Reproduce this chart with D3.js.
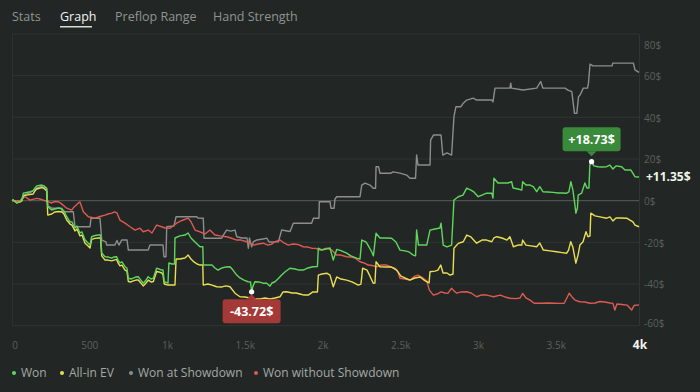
<!DOCTYPE html>
<html><head><meta charset="utf-8">
<script src="https://cdn.jsdelivr.net/npm/d3@7/dist/d3.min.js"></script>
<style>
html,body{margin:0;padding:0;background:#222725;}
svg{display:block;font-family:"Open Sans","Noto Sans",sans-serif;}
</style></head>
<body><svg id="c" width="700" height="392"></svg>
<script>
const tabs = ["Stats","Graph","Preflop Range","Hand Strength"];
const activeTab = "Graph";
const seriesNames = ["Won","All-in EV","Won at Showdown","Won without Showdown"];
const seriesColors = ["#5fd65c","#e8df52","#8b8e8d","#de5a51"];
const yTicks = [-60,-40,-20,0,20,40,60,80];
const xTicks = [0,500,1000,1500,2000,2500,3000,3500];
const xTickLabels = ["0","500","1k","1.5k","2k","2.5k","3k","3.5k"];
const totalHands = 4032;
const totalLabel = "4k";

// [hand, $]
const wonData = [[0,0],[8,0.3],[30,-1.0],[51,-0.5],[64,0.3],[73,3.6],[116,4.3],[135,4.7],[148,6.1],[159,7.1],[191,7.5],[206,7.1],[223,6.0],[230,-2.9],[255,-4.5],[276,-4.0],[298,-3.5],[322,-4.0],[334,-4.9],[352,-7.7],[373,-10.1],[386,-10.2],[405,-13.1],[418,-12.1],[437,-15.5],[450,-15.0],[469,-18.8],[489,-20.3],[502,-21.3],[512,-17.3],[534,-16.7],[555,-16.5],[569,-16.5],[577,-25.1],[598,-26.9],[617,-27.0],[641,-27.6],[656,-27.0],[673,-26.9],[682,-28.5],[694,-29.9],[707,-29.4],[727,-31.7],[739,-32.3],[748,-37.2],[765,-37.6],[780,-37.2],[797,-36.6],[812,-36.5],[829,-38.1],[844,-39.6],[862,-38.1],[876,-36.5],[894,-37.6],[909,-37.2],[930,-32.4],[945,-32.8],[963,-33.3],[971,-33.3],[979,-38.9],[1003,-39.6],[1009,-29.9],[1029,-30.4],[1045,-30.4],[1048,-17.9],[1080,-16.9],[1112,-16.5],[1132,-15.5],[1151,-17.9],[1170,-19.3],[1190,-20.8],[1209,-22.1],[1227,-22.1],[1230,-30.9],[1260,-30.9],[1286,-30.9],[1305,-32.3],[1325,-33.3],[1350,-32.3],[1376,-31.8],[1402,-31.7],[1421,-33.3],[1445,-35.7],[1466,-37.1],[1492,-38.1],[1518,-38.9],[1534,-39.0],[1541,-43.72],[1550,-41.0],[1562,-38.9],[1588,-39.0],[1614,-39.6],[1638,-39.6],[1659,-41.0],[1672,-39.5],[1691,-38.9],[1710,-37.6],[1734,-35.7],[1755,-34.2],[1787,-32.4],[1820,-32.8],[1845,-33.3],[1873,-33.3],[1903,-32.3],[1935,-31.7],[1964,-31.6],[1970,-22.8],[1993,-23.7],[2019,-23.2],[2045,-22.7],[2066,-28.5],[2088,-23.4],[2115,-24.0],[2152,-25.2],[2179,-26.5],[2216,-27.6],[2238,-28.0],[2249,-18.9],[2276,-19.8],[2289,-21.3],[2313,-24.5],[2324,-26.5],[2341,-15.6],[2366,-17.9],[2399,-17.9],[2441,-18.0],[2469,-19.8],[2495,-23.7],[2527,-24.1],[2553,-24.6],[2580,-26.1],[2595,-26.5],[2602,-14.1],[2614,-21.3],[2643,-21.3],[2667,-21.3],[2688,-14.1],[2720,-13.6],[2752,-13.1],[2759,-10.8],[2773,-21.3],[2797,-22.2],[2827,-21.3],[2842,0.3],[2870,1.9],[2900,2.7],[2924,6.0],[2951,5.1],[2970,4.2],[2998,1.9],[3022,2.7],[3052,3.6],[3085,3.6],[3093,1.3],[3099,10.8],[3125,8.5],[3157,8.5],[3189,8.5],[3213,9.1],[3222,6.1],[3254,5.6],[3278,5.1],[3284,9.1],[3305,7.5],[3331,7.5],[3352,6.7],[3374,4.3],[3394,6.7],[3414,4.3],[3446,4.2],[3480,4.0],[3511,3.7],[3536,3.7],[3567,3.6],[3581,4.2],[3594,9.1],[3607,5.1],[3620,-2.1],[3626,-6.0],[3636,-3.5],[3641,2.7],[3663,3.6],[3684,8.5],[3697,6.1],[3710,6.1],[3716,17.1],[3727,18.73],[3742,16.7],[3768,16.3],[3794,16.2],[3824,16.3],[3845,17.1],[3864,15.2],[3884,16.7],[3920,16.3],[3942,14.7],[3961,14.7],[3980,14.7],[4006,11.5],[4032,11.35]];

const evData = [[0,0],[8,0.3],[30,-1.0],[51,-0.6],[64,-0.1],[73,2.3],[116,3.0],[135,3.2],[148,4.7],[159,5.6],[191,6.3],[206,5.9],[223,4.7],[230,-6.9],[255,-6.4],[276,-5.4],[298,-5.2],[322,-5.4],[334,-6.4],[352,-9.3],[373,-11.2],[386,-11.7],[405,-14.5],[418,-13.6],[437,-16.9],[450,-16.5],[469,-20.3],[489,-21.7],[502,-22.7],[512,-18.6],[534,-18.1],[555,-17.9],[569,-17.9],[577,-26.5],[598,-28.5],[617,-28.5],[641,-28.9],[656,-28.5],[673,-28.2],[682,-29.9],[694,-31.3],[707,-30.9],[727,-33.3],[739,-33.8],[748,-38.8],[765,-39.0],[780,-38.5],[797,-38.1],[812,-38.1],[829,-39.5],[844,-40.9],[862,-39.5],[876,-38.1],[894,-39.0],[909,-38.8],[930,-34.0],[945,-34.2],[963,-34.7],[971,-35.6],[979,-40.0],[1003,-40.5],[1029,-40.5],[1048,-40.5],[1055,-28.0],[1080,-28.0],[1112,-27.5],[1133,-26.1],[1151,-28.0],[1170,-29.4],[1190,-30.4],[1209,-30.9],[1227,-30.9],[1230,-40.5],[1260,-40.0],[1286,-40.5],[1316,-41.3],[1350,-41.4],[1376,-40.9],[1402,-41.3],[1434,-44.4],[1466,-46.1],[1498,-46.2],[1531,-46.7],[1563,-47.2],[1595,-47.2],[1627,-46.7],[1659,-47.2],[1691,-46.7],[1724,-46.1],[1743,-43.8],[1767,-43.7],[1801,-44.3],[1826,-44.3],[1852,-44.8],[1878,-45.3],[1905,-45.3],[1935,-43.8],[1964,-43.8],[1970,-35.7],[1993,-35.2],[2024,-34.8],[2045,-35.7],[2066,-41.3],[2088,-36.6],[2115,-37.6],[2152,-38.1],[2186,-39.0],[2227,-40.5],[2244,-40.0],[2255,-32.4],[2283,-33.3],[2302,-36.2],[2323,-39.6],[2334,-39.5],[2341,-29.3],[2366,-31.7],[2405,-31.8],[2437,-31.8],[2474,-33.3],[2501,-36.2],[2527,-37.1],[2559,-38.1],[2591,-37.1],[2624,-36.6],[2649,-38.1],[2667,-38.9],[2682,-39.5],[2688,-34.1],[2720,-33.8],[2739,-33.3],[2757,-30.9],[2772,-34.7],[2797,-34.7],[2817,-35.7],[2836,-35.2],[2842,-22.8],[2870,-20.5],[2902,-19.7],[2924,-16.5],[2951,-17.4],[2988,-20.4],[3022,-18.9],[3052,-18.9],[3085,-19.7],[3099,-17.9],[3117,-17.3],[3151,-17.9],[3183,-18.9],[3202,-17.3],[3224,-22.1],[3254,-21.3],[3278,-21.3],[3284,-18.9],[3305,-21.3],[3337,-21.7],[3374,-22.1],[3394,-20.3],[3417,-23.7],[3460,-24.1],[3502,-24.5],[3537,-24.9],[3567,-25.2],[3579,-23.7],[3593,-19.7],[3607,-22.4],[3626,-30.0],[3640,-26.1],[3652,-21.3],[3672,-19.7],[3691,-14.9],[3704,-17.3],[3717,-16.9],[3722,-6.0],[3749,-7.3],[3781,-7.8],[3824,-8.4],[3845,-7.8],[3864,-9.7],[3884,-8.3],[3916,-8.3],[3953,-8.4],[3974,-9.3],[3993,-10.2],[4006,-11.7],[4032,-12.5]];

const sdData = [[0,0],[8,0.3],[30,-1.0],[51,-0.5],[73,2.5],[116,3.9],[148,5.4],[159,6.1],[191,6.8],[223,5.9],[230,-2.5],[255,-3.6],[296,-3.6],[320,-3.6],[322,-5.3],[394,-5.3],[405,-12.5],[502,-12.5],[508,-8.4],[566,-8.4],[577,-18.9],[604,-19.8],[609,-21.3],[662,-21.3],[675,-19.1],[688,-21.3],[705,-18.9],[740,-18.9],[748,-23.7],[876,-23.7],[887,-21.3],[971,-21.3],[977,-26.9],[990,-26.9],[995,-12.5],[1042,-12.1],[1055,-7.7],[1188,-7.7],[1196,-8.3],[1230,-8.4],[1235,-18.0],[1349,-18.0],[1359,-16.5],[1380,-14.1],[1408,-14.6],[1434,-14.1],[1445,-17.3],[1479,-17.9],[1511,-17.9],[1520,-22.8],[1527,-17.9],[1541,-22.1],[1552,-19.7],[1573,-18.9],[1614,-18.4],[1638,-18.0],[1653,-19.8],[1713,-19.7],[1734,-14.1],[1788,-14.8],[1809,-10.8],[1927,-10.8],[1938,-8.4],[1974,-8.4],[1976,-0.5],[2045,-0.5],[2051,-3.6],[2071,-3.6],[2077,0.8],[2088,1.9],[2238,1.9],[2249,7.5],[2270,8.4],[2302,7.5],[2323,6.0],[2338,6.0],[2341,16.3],[2357,16.3],[2366,13.2],[2437,13.2],[2450,13.8],[2495,13.2],[2538,12.3],[2559,10.8],[2595,10.8],[2602,21.9],[2611,17.1],[2688,17.1],[2692,29.1],[2710,31.5],[2759,31.5],[2770,21.9],[2797,22.9],[2827,21.9],[2842,40.3],[2855,45.1],[2887,45.1],[2902,46.8],[2924,48.3],[2966,49.2],[2988,48.3],[3052,48.3],[3086,48.3],[3093,47.4],[3106,54.0],[3202,54.0],[3207,56.4],[3212,54.0],[3286,53.1],[3374,54.0],[3400,57.2],[3414,54.0],[3556,54.0],[3575,53.1],[3600,52.3],[3617,41.9],[3632,41.9],[3643,49.9],[3653,50.7],[3674,54.0],[3701,54.0],[3707,56.4],[3717,65.5],[3736,64.7],[3859,64.7],[3863,66.0],[3996,66.0],[4006,62.8],[4032,61.6]];

const nsdData = [[0,0],[51,0],[71,1.3],[84,1.9],[116,0.3],[159,1.1],[180,0.8],[201,0.3],[233,-0.5],[251,-1.1],[276,-0.4],[298,-0.5],[315,-1.3],[352,-3.6],[384,-4.5],[399,-3.0],[426,-1.2],[437,-0.6],[459,-5.3],[491,-7.7],[534,-8.4],[566,-7.6],[598,-6.9],[617,-6.4],[641,-6.0],[659,-5.4],[675,-5.9],[694,-9.3],[727,-10.8],[759,-12.5],[791,-14.1],[823,-13.2],[844,-14.9],[876,-14.1],[900,-15.5],[930,-11.7],[963,-12.5],[984,-13.1],[1016,-13.2],[1059,-10.8],[1093,-9.5],[1133,-8.4],[1151,-10.1],[1177,-14.1],[1209,-15.0],[1241,-16.0],[1273,-14.1],[1305,-16.5],[1338,-16.9],[1380,-17.3],[1408,-17.9],[1445,-18.9],[1473,-18.9],[1509,-19.7],[1531,-20.3],[1552,-21.3],[1582,-20.8],[1616,-20.4],[1646,-21.3],[1672,-20.8],[1691,-19.7],[1724,-18.9],[1749,-20.3],[1777,-21.3],[1807,-20.8],[1839,-21.0],[1873,-22.1],[1897,-22.2],[1927,-22.8],[1955,-22.9],[1981,-23.7],[2024,-22.8],[2056,-23.7],[2088,-26.1],[2115,-26.1],[2152,-26.9],[2179,-27.0],[2205,-27.5],[2238,-29.3],[2264,-29.9],[2291,-30.9],[2315,-31.1],[2345,-31.7],[2373,-30.9],[2410,-30.9],[2437,-31.8],[2463,-32.4],[2482,-34.2],[2495,-37.2],[2527,-37.6],[2559,-38.1],[2591,-36.2],[2611,-35.7],[2645,-37.2],[2667,-38.5],[2684,-42.9],[2710,-45.3],[2733,-44.8],[2759,-43.8],[2784,-44.3],[2804,-44.4],[2827,-42.0],[2842,-43.3],[2860,-44.4],[2887,-43.8],[2924,-43.7],[2952,-44.3],[2988,-46.1],[3016,-45.3],[3052,-45.3],[3074,-45.7],[3096,-46.1],[3139,-45.3],[3170,-46.2],[3202,-46.8],[3241,-47.0],[3267,-46.7],[3284,-44.5],[3305,-46.7],[3331,-47.7],[3358,-49.2],[3404,-49.2],[3442,-49.1],[3487,-49.2],[3519,-49.3],[3551,-49.2],[3568,-46.7],[3583,-44.4],[3601,-46.2],[3620,-47.7],[3652,-48.5],[3684,-48.6],[3716,-49.2],[3749,-49.1],[3781,-48.4],[3813,-48.6],[3845,-49.1],[3864,-49.3],[3877,-52.5],[3890,-49.6],[3922,-49.8],[3955,-50.1],[3985,-52.5],[4000,-50.3],[4032,-50.0]];

const series = [wonData, evData, sdData, nsdData];

const svg = d3.select("#c");
const bg = "#222725";
svg.append("rect").attr("width",700).attr("height",392).attr("fill",bg);

// tabs
const tabX = [12,60,115,213];
tabs.forEach((t,i)=>{
  svg.append("text").attr("x",tabX[i]).attr("y",21)
    .attr("font-size",12.5)
    .attr("fill", t===activeTab ? "#f2f4f3" : "#8e9491")
    .text(t);
});
svg.append("rect").attr("x",60).attr("y",26).attr("width",32).attr("height",1.5).attr("fill","#d8dbd9");

const x = d3.scaleLinear().domain([0,totalHands]).range([12,639]);
const y = d3.scaleLinear().domain([-60,80]).range([325.7,34]);

// grid
const g = svg.append("g");
yTicks.forEach(v=>{
  g.append("line").attr("x1",12).attr("x2",639).attr("y1",y(v)).attr("y2",y(v))
    .attr("stroke", v===0 ? "#585d5b" : "#2f3533").attr("stroke-width",1);
});
g.append("line").attr("x1",12.5).attr("x2",12.5).attr("y1",34).attr("y2",325.7).attr("stroke","#2c3230");
g.append("line").attr("x1",639.5).attr("x2",639.5).attr("y1",34).attr("y2",325.7).attr("stroke","#2f3533");

// y labels
yTicks.forEach(v=>{
  const cy = Math.max(45, Math.min(323, y(v)+0.8));
  svg.append("text").attr("x",644).attr("y",cy).attr("dy","0.35em")
    .attr("font-size",10).attr("fill","#5a605d").text(v+"$");
});
// x labels
xTicks.forEach((v,i)=>{
  svg.append("text").attr("x",Math.max(15,x(v))).attr("y",345).attr("dy","0.35em")
    .attr("text-anchor","middle").attr("font-size",10).attr("fill","#5a605d").text(xTickLabels[i]);
});
svg.append("text").attr("x",x(totalHands)+1).attr("y",345).attr("dy","0.35em")
  .attr("text-anchor","middle").attr("font-size",12).attr("font-weight","bold").attr("fill","#f2f4f3").text(totalLabel);

// lines
const line = d3.line().x(d=>x(d[0])).y(d=>y(d[1]));
[2,3,1,0].forEach(i=>{
  svg.append("path").datum(series[i]).attr("d",line).attr("fill","none")
    .attr("stroke",seriesColors[i]).attr("stroke-width",1.4).attr("stroke-linejoin","round");
});

// annotations
const fmt = v => (v>0?"+":"") + v.toFixed(2) + "$";
const maxP = wonData.reduce((a,b)=> b[1]>a[1]?b:a);
const minP = wonData.reduce((a,b)=> b[1]<a[1]?b:a);
function box(p, above, color){
  const px = x(p[0]), py = y(p[1]);
  const w = 58, h = 24;
  const by = above ? py - 10.5 - h : py + 7.5;
  const ann = svg.append("g");
  ann.append("rect").attr("x",px-w/2).attr("y",by).attr("width",w).attr("height",h).attr("rx",3).attr("fill",color);
  const ty = above ? by+h : by;
  const tip = above ? by+h+5 : by-5;
  ann.append("path").attr("d",`M${px-5},${ty}L${px},${tip}L${px+5},${ty}Z`).attr("fill",color);
  ann.append("text").attr("x",px).attr("y",by+h/2).attr("dy","0.36em").attr("text-anchor","middle")
    .attr("font-size",12.5).attr("font-weight","bold").attr("fill","#ffffff").text(fmt(p[1]));
  svg.append("circle").attr("cx",px).attr("cy",py).attr("r",2.6).attr("fill","#ffffff");
}
box(maxP, true, "#3a8a3c");
box(minP, false, "#a33a38");

const last = wonData[wonData.length-1];
svg.append("text").attr("x",646).attr("y",y(last[1])).attr("dy","0.35em")
  .attr("font-size",12).attr("font-weight","bold").attr("fill","#eef6e8").text(fmt(last[1]));

// legend
const legX = [14,62,131,256];
seriesNames.forEach((n,i)=>{
  svg.append("circle").attr("cx",legX[i]).attr("cy",373).attr("r",2).attr("fill",seriesColors[i]);
  svg.append("text").attr("x",legX[i]+7).attr("y",373).attr("dy","0.35em")
    .attr("font-size",12).attr("fill","#a4a9a6").text(n);
});
</script></body></html>
